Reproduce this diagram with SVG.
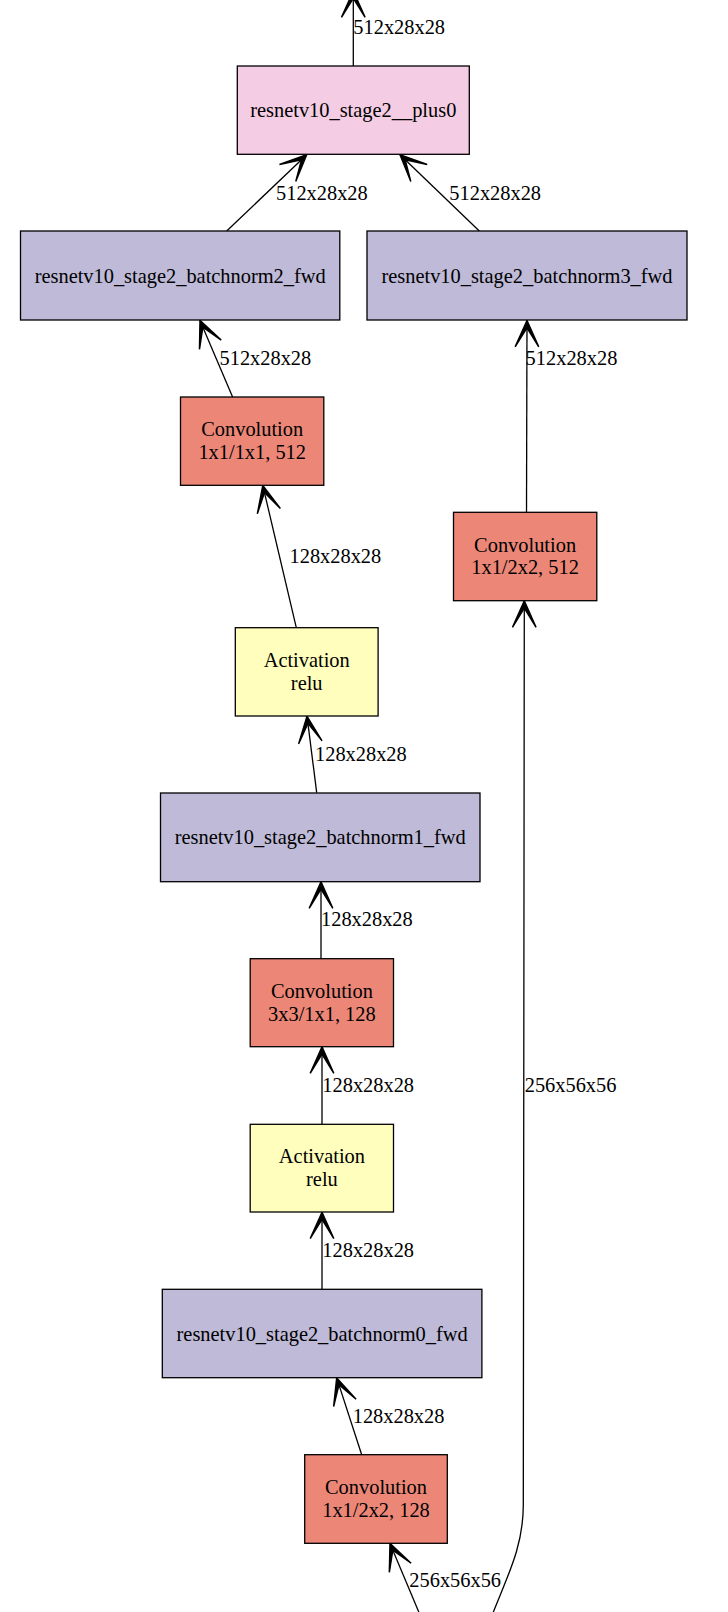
<svg xmlns="http://www.w3.org/2000/svg" width="728" height="1612" viewBox="0 0 728 1612">
  <style>
    .box { stroke: #000; stroke-width: 1.3; }
    .conv { fill: #ec8778; }
    .bn { fill: #bebad8; }
    .act { fill: #fffebd; }
    .plus { fill: #f4cde4; }
    text { font-family: "Liberation Serif", "Times New Roman", serif; font-size: 20.4px; fill: #000; }
    .c { text-anchor: middle; }
    .edge { fill: none; stroke: #000; stroke-width: 1.3; marker-end: url(#vee); }
  </style>
  <defs>
    <marker id="vee" markerUnits="userSpaceOnUse" orient="auto" refX="0" refY="0" markerWidth="40" markerHeight="40" viewBox="-20 -10 22 20" overflow="visible">
      <path d="M0,0 L-14.5,-6.5 L-4,0 L-14.5,6.5 Z" fill="#000" stroke="#000" stroke-width="0.8" stroke-linejoin="miter"/>
    </marker>
  </defs>
  <rect width="728" height="1612" fill="#fff"/>

  <!-- connectors and their shape labels -->
  <g id="edges">
    <path class="edge" d="M353.3,66 L353.3,-9"/>
    <text x="353.3" y="34">512x28x28</text>

    <path class="edge" d="M226.7,231 L306.7,154.8"/>
    <text x="276" y="200">512x28x28</text>

    <path class="edge" d="M479.3,231 L400,154.8"/>
    <text x="449.3" y="200">512x28x28</text>

    <path class="edge" d="M232.6,397 L200,320.5"/>
    <text x="219.5" y="365">512x28x28</text>

    <path class="edge" d="M526.5,512.3 L527,320.5"/>
    <text x="525.6" y="365">512x28x28</text>

    <path class="edge" d="M296.3,627.7 L262.8,485.5"/>
    <text x="289.5" y="563">128x28x28</text>

    <path class="edge" d="M316.7,792.7 L307,716.2"/>
    <text x="315" y="760.7">128x28x28</text>

    <path class="edge" d="M321,958.7 L321,881.9"/>
    <text x="321" y="926">128x28x28</text>

    <path class="edge" d="M322,1124.3 L322,1046.9"/>
    <text x="322.3" y="1091.7">128x28x28</text>

    <path class="edge" d="M322,1289.3 L322,1212.2"/>
    <text x="322.3" y="1256.7">128x28x28</text>

    <path class="edge" d="M361.7,1454.7 L336.7,1377.9"/>
    <text x="352.7" y="1423.3">128x28x28</text>

    <path class="edge" d="M423,1622 L390,1543.5"/>
    <text x="409.3" y="1587">256x56x56</text>

    <path class="edge" d="M489.5,1622 C505,1580 523.3,1550 523.3,1505 L524.3,600.9"/>
    <text x="524.7" y="1091.7">256x56x56</text>
  </g>

  <!-- nodes -->
  <g id="plus0">
    <rect class="box plus" x="237.3" y="66" width="232" height="88.3"/>
    <text class="c" x="353.3" y="117.3">resnetv10_stage2__plus0</text>
  </g>
  <g id="batchnorm2">
    <rect class="box bn" x="20.5" y="231" width="319.3" height="89"/>
    <text class="c" x="180.2" y="282.5">resnetv10_stage2_batchnorm2_fwd</text>
  </g>
  <g id="batchnorm3">
    <rect class="box bn" x="367" y="231" width="320" height="89"/>
    <text class="c" x="527" y="282.5">resnetv10_stage2_batchnorm3_fwd</text>
  </g>
  <g id="conv2">
    <rect class="box conv" x="180.5" y="397" width="143.3" height="88.3"/>
    <text class="c" x="252.2" y="436">Convolution</text>
    <text class="c" x="252.2" y="459">1x1/1x1, 512</text>
  </g>
  <g id="conv3">
    <rect class="box conv" x="453.5" y="512.3" width="143.3" height="88.4"/>
    <text class="c" x="525.1" y="551.5">Convolution</text>
    <text class="c" x="525.1" y="574.3">1x1/2x2, 512</text>
  </g>
  <g id="relu1">
    <rect class="box act" x="235.3" y="627.7" width="142.8" height="88.3"/>
    <text class="c" x="306.7" y="666.8">Activation</text>
    <text class="c" x="306.7" y="689.5">relu</text>
  </g>
  <g id="batchnorm1">
    <rect class="box bn" x="160.5" y="793" width="319.5" height="88.7"/>
    <text class="c" x="320.2" y="844.2">resnetv10_stage2_batchnorm1_fwd</text>
  </g>
  <g id="conv1">
    <rect class="box conv" x="250.2" y="958.7" width="143.3" height="88"/>
    <text class="c" x="321.9" y="997.7">Convolution</text>
    <text class="c" x="321.9" y="1020.7">3x3/1x1, 128</text>
  </g>
  <g id="relu0">
    <rect class="box act" x="250.2" y="1124.3" width="143.3" height="87.7"/>
    <text class="c" x="321.9" y="1163.2">Activation</text>
    <text class="c" x="321.9" y="1186">relu</text>
  </g>
  <g id="batchnorm0">
    <rect class="box bn" x="162.3" y="1289.3" width="319.6" height="88.4"/>
    <text class="c" x="322.1" y="1340.5">resnetv10_stage2_batchnorm0_fwd</text>
  </g>
  <g id="conv0">
    <rect class="box conv" x="304.7" y="1454.7" width="142.6" height="88.6"/>
    <text class="c" x="376" y="1494">Convolution</text>
    <text class="c" x="376" y="1517">1x1/2x2, 128</text>
  </g>
</svg>
